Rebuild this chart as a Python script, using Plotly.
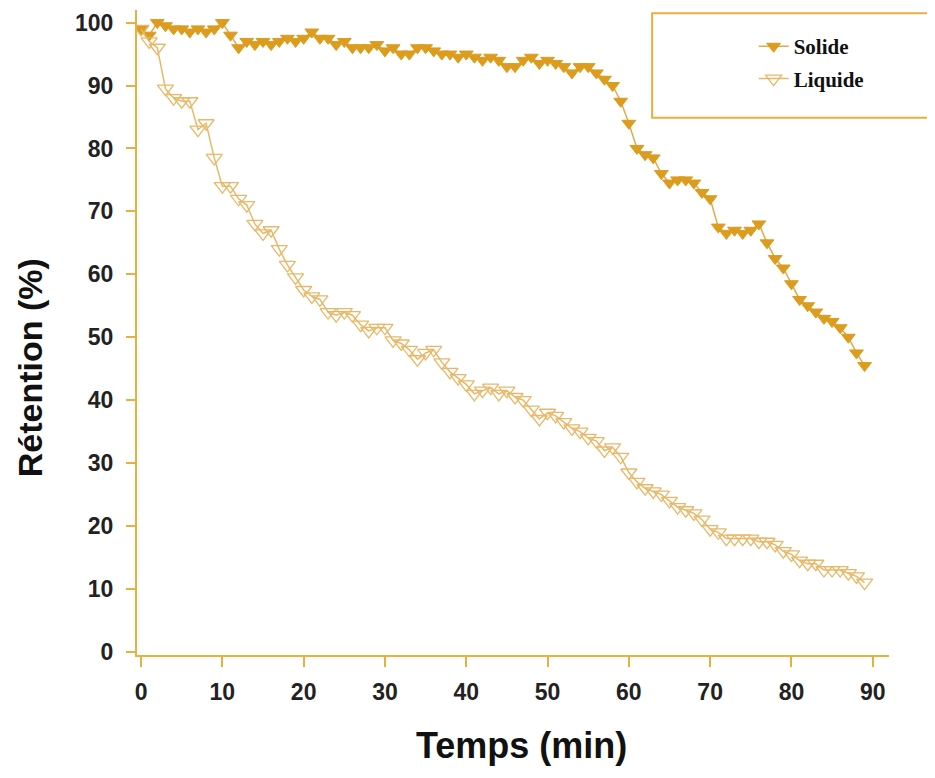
import plotly.graph_objects as go

temps = list(range(90))

solide = [99, 98, 100, 99.5, 99, 99, 98.5, 99, 98.5, 99,
          100, 98, 96, 97, 96.5, 97, 96.5, 97, 97.5, 97,
          97.5, 98.5, 97.5, 97.5, 96.5, 97, 96, 96, 96, 96.5,
          95.5, 96, 95, 95, 96, 96, 95.5, 95, 95, 94.5,
          95, 94.5, 94, 94.5, 94, 93, 93, 94, 94.5, 93.5,
          94, 93.5, 93, 92, 93, 93, 92, 91, 90, 87.5,
          84, 80, 79, 78.5, 76, 74.5, 75, 75, 74.5, 73,
          72, 67.5, 66.5, 67, 66.5, 67, 68, 65, 62.5, 61,
          58.5, 56, 55, 54, 53, 52.5, 51.5, 50, 47.5, 45.5]

liquide = [99, 97, 96, 89.5, 88, 87.5, 87.5, 83, 84, 78.5,
           74, 74, 72, 71, 68, 66.5, 67, 64, 61.5, 59.5,
           57.5, 56.5, 56, 54, 53.5, 54, 53.5, 52, 51, 51.5,
           51.5, 49.5, 49, 48, 46.5, 47.5, 48, 46, 44.5, 43.5,
           42.5, 41, 41.5, 42, 41, 41.5, 40.5, 40, 38.5, 37,
           38, 37.5, 36.5, 35.5, 35, 34, 33.5, 32, 32.5, 31,
           28.5, 27, 26, 25.5, 25, 24, 23, 22.5, 22, 21,
           19.5, 19, 18, 18, 18, 18, 17.5, 17.5, 17, 16,
           15.5, 14.5, 14, 14, 13, 13, 13, 12.5, 12, 11]

x_ticks = list(range(0, 100, 10))
y_ticks = list(range(0, 110, 10))

x_title = "Temps (min)"
y_title = "Rétention (%)"

gold = "#DC9C1E"
light = "#E8B868"
axis_col = "#E8B040"

fig = go.Figure()
fig.add_trace(go.Scatter(
    x=temps, y=solide, mode="lines+markers", name="Solide", legendgroup="a",
    line=dict(color="#E2AA4A", width=1.5),
    marker=dict(symbol="triangle-down", size=12, color=gold,
                line=dict(color=gold, width=1)),
))
fig.add_trace(go.Scatter(
    x=temps, y=liquide, mode="lines+markers", name="Liquide", legendgroup="b",
    line=dict(color=light, width=1.5),
    marker=dict(symbol="triangle-down-open", size=14, color=light,
                line=dict(color=light, width=1.3)),
))

fig.update_layout(
    width=927, height=770,
    margin=dict(l=129, r=46, t=2, b=123),
    paper_bgcolor="white", plot_bgcolor="white",
    font=dict(family="Liberation Sans, Arial", color="#222222"),
    showlegend=True,
    legend=dict(x=0.82, y=0.975, xanchor="left", yanchor="top",
                bgcolor="rgba(0,0,0,0)", borderwidth=0,
                tracegroupgap=2,
                font=dict(family="Liberation Serif, Times New Roman", size=21,
                          color="#111111", weight="bold")),
    shapes=[dict(type="rect", xref="paper", yref="paper",
                 x0=0.685, x1=1.07, y0=0.833, y1=0.995,
                 line=dict(color=axis_col, width=2), fillcolor="rgba(0,0,0,0)")],
    annotations=[
        dict(text="<b>" + x_title + "</b>", xref="paper", yref="paper",
             x=0.511, y=-0.14, xanchor="center", yanchor="middle", showarrow=False,
             font=dict(family="Liberation Sans, Arial", size=36, color="#111111")),
        dict(text="<b>" + y_title + "</b>", xref="paper", yref="paper",
             x=-0.142, y=0.445, xanchor="center", yanchor="middle", showarrow=False,
             textangle=-90,
             font=dict(family="Liberation Sans, Arial", size=34, color="#111111")),
    ],
)

fig.update_xaxes(
    range=[-0.5, 92], tickvals=x_ticks, ticktext=[str(v) for v in x_ticks],
    showline=True, linecolor=axis_col, linewidth=2,
    ticks="outside", ticklen=10, tickcolor=axis_col, tickwidth=1.5,
    ticklabelstandoff=5,
    showgrid=False, zeroline=False,
    tickfont=dict(family="Liberation Sans, Arial", size=23, color="#222222", weight="bold"),
)
fig.update_yaxes(
    range=[-0.5, 102], tickvals=y_ticks, ticktext=[str(v) for v in y_ticks],
    showline=True, linecolor=axis_col, linewidth=2,
    ticks="outside", ticklen=9, tickcolor=axis_col, tickwidth=1.5,
    ticklabelstandoff=8,
    showgrid=False, zeroline=False,
    tickfont=dict(family="Liberation Sans, Arial", size=23, color="#222222", weight="bold"),
)

fig.write_html("out.html")
